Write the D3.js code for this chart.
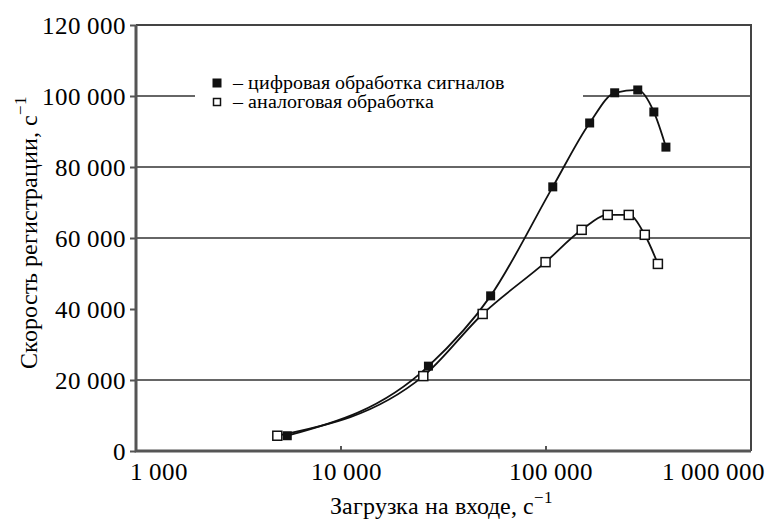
<!DOCTYPE html>
<html>
<head>
<meta charset="utf-8">
<script src="https://cdn.jsdelivr.net/npm/d3@7"></script>
<style>
  @font-face { font-family: "ChartSerif"; src: local("Liberation Serif"), local("LiberationSerif"), local("Liberation Serif Regular"), local("LiberationSerif-Regular"); }
  body { margin: 0; background: #fff; }
</style>
</head>
<body>
<svg id="fig" width="772" height="519"></svg>
<script>
// load on input, counts per second
const digitalLoad = [5470, 26700, 53700, 107900, 163300, 216300, 280300, 335800, 384600];
const digitalRate = [4300, 23900, 43700, 74400, 92400, 100900, 101700, 95500, 85600];
const analogLoad = [4890, 25200, 49100, 99500, 149300, 200000, 253300, 303300, 351400];
const analogRate = [4300, 21100, 38600, 53200, 62300, 66500, 66500, 60900, 52700];

const xTicks = [1000, 10000, 100000, 1000000];
const yTicks = [0, 20000, 40000, 60000, 80000, 100000, 120000];
const gridValues = [20000, 60000, 80000]; // 40 000 has no line in the original
const legendLabels = ["– цифровая обработка сигналов", "– аналоговая обработка"];

const Width = 772, Height = 519;
const MarginTop = 25, MarginRight = 21, MarginBottom = 68, MarginLeft = 136;
const Font = '"ChartSerif", "Liberation Serif", "Times New Roman", "DejaVu Serif"';

const fmt = v => d3.format(",")(v).replace(/,/g, " ");

const X = d3.scaleLog()
  .domain([1000, 1000000])
  .range([MarginLeft, Width - MarginRight]);
const Y = d3.scaleLinear()
  .domain([0, 120000])
  .range([Height - MarginBottom, MarginTop]);

const SVG = d3.select("#fig");

// grid
SVG.append("g")
  .attr("stroke", "#666")
  .attr("stroke-width", 2)
  .selectAll("line")
  .data(gridValues)
  .join("line")
  .attr("x1", MarginLeft).attr("x2", Width - MarginRight)
  .attr("y1", d => Y(d)).attr("y2", d => Y(d));

// 100 000 line, broken by the legend
SVG.append("line")
  .attr("stroke", "#666").attr("stroke-width", 2)
  .attr("x1", MarginLeft).attr("x2", Width - MarginRight)
  .attr("y1", Y(100000)).attr("y2", Y(100000));

// frame top and right
SVG.append("path")
  .attr("fill", "none").attr("stroke", "#444").attr("stroke-width", 2)
  .attr("d", `M${MarginLeft},${Y(120000)}H${X(1000000)}V${Y(0)}`);

// legend background hides the gridline
SVG.append("rect")
  .attr("x", 195).attr("y", 70).attr("width", 388).attr("height", 46)
  .attr("fill", "#fff");

// y axis
const YAxis = SVG.append("g")
  .attr("transform", `translate(${MarginLeft},0)`)
  .call(d3.axisLeft(Y).tickValues(yTicks).tickSize(6).tickPadding(4).tickFormat(fmt));
YAxis.select(".domain").remove();
YAxis.selectAll(".tick line").attr("stroke", "#555").attr("stroke-width", 2);
YAxis.selectAll("text")
  .style("font-family", Font).style("font-size", "25px");

// x axis ticks pointing inward
SVG.append("g")
  .attr("stroke", "#555").attr("stroke-width", 2)
  .selectAll("line")
  .data(xTicks.slice(1, 3))
  .join("line")
  .attr("x1", d => X(d)).attr("x2", d => X(d))
  .attr("y1", Y(0)).attr("y2", Y(0) - 5);

SVG.append("g")
  .selectAll("text")
  .data(xTicks)
  .join("text")
  .attr("x", d => X(d))
  .attr("y", Height - MarginBottom + 29)
  .attr("dx", (d, i) => i === 0 ? -6 : i === xTicks.length - 1 ? 14 : 5)
  .attr("text-anchor", (d, i) => i === 0 ? "start" : i === xTicks.length - 1 ? "end" : "middle")
  .style("font-family", Font).style("font-size", "25px")
  .text(fmt);

// axis lines
SVG.append("path")
  .attr("fill", "none").attr("stroke", "#555").attr("stroke-width", 3)
  .attr("d", `M${MarginLeft},${Y(120000)}V${Y(0)}H${X(1000000)}`);

// curves
const Line = d3.line()
  .x(d => X(d[0]))
  .y(d => Y(d[1]))
  .curve(d3.curveMonotoneX);

const digital = d3.zip(digitalLoad, digitalRate);
const analog = d3.zip(analogLoad, analogRate);

SVG.append("path").datum(digital)
  .attr("fill", "none").attr("stroke", "#111").attr("stroke-width", 1.8)
  .attr("d", Line);
SVG.append("path").datum(analog)
  .attr("fill", "none").attr("stroke", "#111").attr("stroke-width", 1.8)
  .attr("d", Line);

const S = 9;
SVG.append("g").selectAll("rect")
  .data(analog)
  .join("rect")
  .attr("x", d => X(d[0]) - S / 2).attr("y", d => Y(d[1]) - S / 2)
  .attr("width", S).attr("height", S)
  .attr("fill", "#fff").attr("stroke", "#111").attr("stroke-width", 1.5);
SVG.append("g").selectAll("rect")
  .data(digital)
  .join("rect")
  .attr("x", d => X(d[0]) - S / 2).attr("y", d => Y(d[1]) - S / 2)
  .attr("width", S).attr("height", S)
  .attr("fill", "#111");

// legend
const Legend = SVG.append("g").attr("transform", "translate(217,83)");
const LegendRow = Legend.selectAll("g")
  .data(legendLabels)
  .join("g")
  .attr("transform", (d, i) => `translate(0,${i * 19})`);
LegendRow.append("rect")
  .attr("x", (d, i) => i === 0 ? -4.5 : -3.5).attr("y", (d, i) => i === 0 ? -4.5 : -3.5)
  .attr("width", (d, i) => i === 0 ? 9 : 7).attr("height", (d, i) => i === 0 ? 9 : 7)
  .attr("fill", (d, i) => i === 0 ? "#111" : "#fff")
  .attr("stroke", "#111").attr("stroke-width", (d, i) => i === 0 ? 0 : 1.5);
LegendRow.append("text")
  .attr("x", 16).attr("y", 6)
  .style("font-family", Font).style("font-size", "20px")
  .text(d => d);

// axis titles
const xTitle = SVG.append("text")
  .attr("x", 441).attr("y", 514)
  .attr("text-anchor", "middle")
  .style("font-family", Font).style("font-size", "24px");
xTitle.append("tspan").text("Загрузка на входе, с");
xTitle.append("tspan").attr("dy", -11).style("font-size", "17px").text("−1");

const yTitle = SVG.append("text")
  .attr("transform", "translate(37,232) rotate(-90)")
  .attr("text-anchor", "middle")
  .style("font-family", Font).style("font-size", "24px");
yTitle.append("tspan").text("Скорость регистрации, с");
yTitle.append("tspan").attr("dy", -11).style("font-size", "17px").text("−1");
</script>
</body>
</html>
